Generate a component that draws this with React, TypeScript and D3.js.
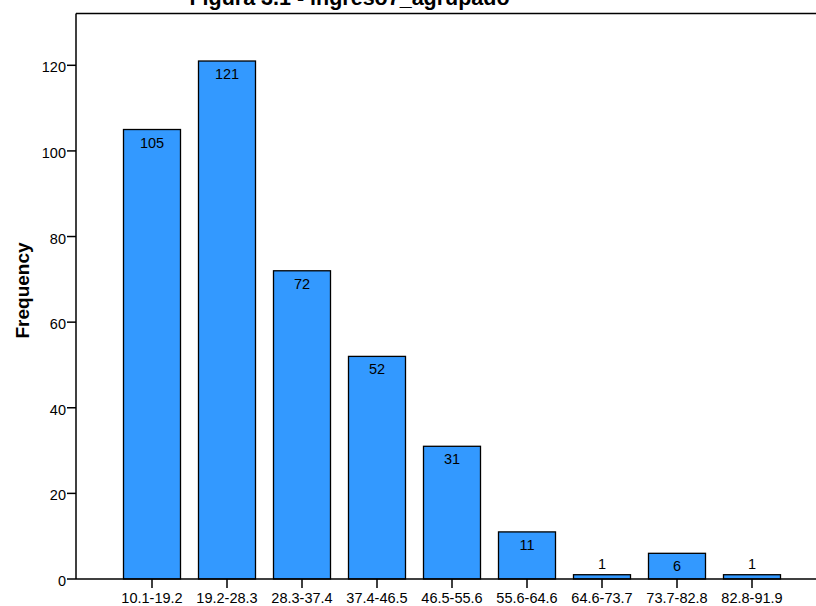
import React from "react";
import * as d3 from "d3";

const categories = ["10.1-19.2", "19.2-28.3", "28.3-37.4", "37.4-46.5", "46.5-55.6", "55.6-64.6", "64.6-73.7", "73.7-82.8", "82.8-91.9"];
const frequencies = [105, 121, 72, 52, 31, 11, 1, 6, 1];
const yTicks = [0, 20, 40, 60, 80, 100, 120];
const title = "Figura 3.1 - ingreso7_agrupado";
const yLabel = "Frequency";

const W = 816, H = 606;
const left = 76, top = 13.5, bottom = 579, right = 830;
const font = "'Liberation Sans', Arial, sans-serif";

export default function App() {
  const y = d3.scaleLinear().domain([0, 132.1]).range([bottom, top]);
  const x = d3.scaleBand<string>().domain(categories).range([114.5, 789.5]).paddingInner(0.24).paddingOuter(0.12);
  return (
    <svg width={W} height={H} style={{ position: "absolute", left: 0, top: 0, background: "#fff" }}>
      <rect x={0} y={0} width={W} height={H} fill="#fff" />
      <text x={349.5} y={5} textAnchor="middle" fontFamily={font} fontWeight="bold" fontSize={21.5}>{title}</text>
      {categories.map((c, i) => {
        const v = frequencies[i];
        const bx = x(c)!;
        const by = y(v);
        const h = bottom - by;
        const inside = h > 18;
        const cx = bx + x.bandwidth() / 2;
        return (
          <g key={c}>
            <rect x={bx} y={by} width={x.bandwidth()} height={h} fill="#3399FF" stroke="#000" strokeWidth={1.3} />
            <text x={cx} y={inside ? by + 18 : by - 6} textAnchor="middle" fontFamily={font} fontSize={14.5}>{v}</text>
            <line x1={cx} x2={cx} y1={bottom} y2={bottom + 9} stroke="#000" strokeWidth={1.5} />
            <text x={cx} y={bottom + 24} textAnchor="middle" fontFamily={font} fontSize={14.5}>{c}</text>
          </g>
        );
      })}
      {yTicks.map(t => (
        <g key={t}>
          <line x1={left - 9} x2={left} y1={y(t)} y2={y(t)} stroke="#000" strokeWidth={1.5} />
          <text x={left - 10} y={y(t) + 7} textAnchor="end" fontFamily={font} fontSize={14.5}>{t}</text>
        </g>
      ))}
      <line x1={left} x2={right} y1={top} y2={top} stroke="#000" strokeWidth={1.5} />
      <line x1={left} x2={right} y1={bottom} y2={bottom} stroke="#000" strokeWidth={1.5} />
      <line x1={left} x2={left} y1={top} y2={bottom} stroke="#000" strokeWidth={1.5} />
      <text transform={`translate(29,${290.5}) rotate(-90)`} textAnchor="middle" fontFamily={font} fontWeight="bold" fontSize={19}>{yLabel}</text>
    </svg>
  );
}
